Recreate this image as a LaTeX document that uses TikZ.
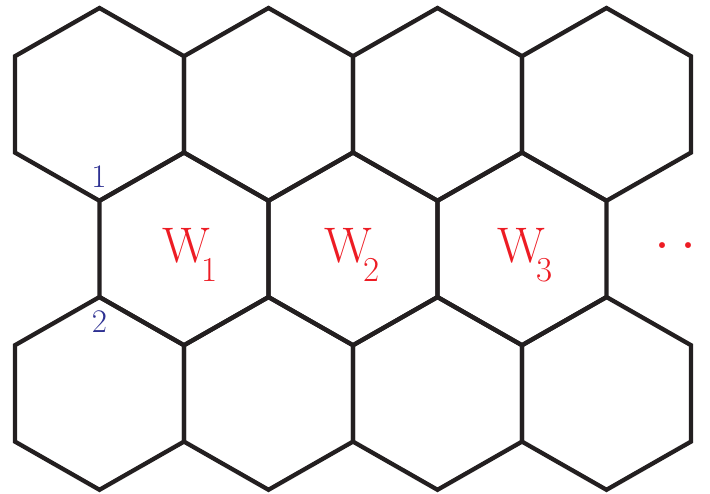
\documentclass[tikz,border=0pt]{standalone}
\usepackage{fontspec}
\definecolor{linecol}{HTML}{231F20}
\definecolor{wred}{HTML}{ED1C24}
\definecolor{nblue}{HTML}{2E3192}
\newcommand{\hexR}{96.4}
\newcommand{\hexW}{84.5}
\newcommand{\wlab}[1]{W\kern-8pt\raisebox{-19pt}{\fontsize{35}{40}\selectfont #1}}
\tikzset{
  hexline/.style={draw=linecol, line width=4.3pt, line join=miter},
  wlabel/.style={text=wred, font=\fontsize{50}{60}\selectfont, inner sep=0pt, anchor=base west},
  dotlabel/.style={text=wred, font=\fontsize{72}{80}\selectfont, inner sep=0pt, anchor=center},
  nlabel/.style={text=nblue, font=\fontsize{33}{38}\selectfont, inner sep=0pt, anchor=base},
}
\begin{document}
\begin{tikzpicture}[x=1pt,y=-1pt]
\useasboundingbox (0,0) rectangle (710,494);
% hexagons: rows (cy) and centres (cx)
\foreach \cy/\xs in {104.4/{99.5,268.5,437.5,606.5}, 248.9/{184,353,522}, 393.4/{99.5,268.5,437.5,606.5}}{
  \foreach \cx in \xs {
    \draw[hexline] (\cx,\cy-\hexR) -- (\cx+\hexW,\cy-\hexR/2) -- (\cx+\hexW,\cy+\hexR/2)
      -- (\cx,\cy+\hexR) -- (\cx-\hexW,\cy+\hexR/2) -- (\cx-\hexW,\cy-\hexR/2) -- cycle;
  }
}
\node[wlabel] (w1) at (162,263) {\wlab{1}};
\node[wlabel] (w2) at (324,263) {\wlab{2}};
\node[wlabel] (w3) at (497,263) {\wlab{3}};
\node[dotlabel] (dota) at (662,246) {.};
\node[dotlabel] (dotb) at (688,246) {.};
\node[nlabel] (n1) at (99,188) {1};
\node[nlabel] (n2) at (99.5,333) {2};
\end{tikzpicture}
\end{document}
